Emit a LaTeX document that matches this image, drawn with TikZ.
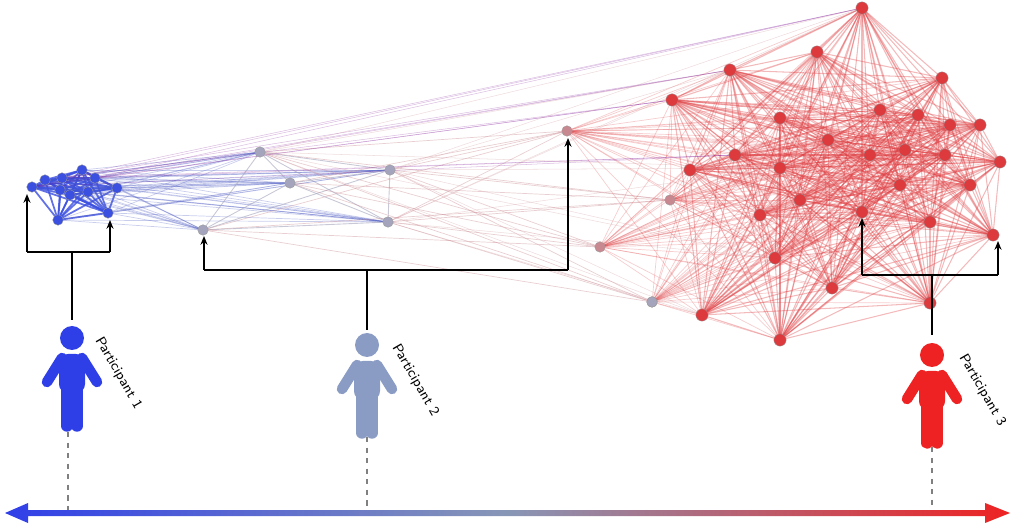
\documentclass[tikz,border=0pt]{standalone}
\usetikzlibrary{arrows.meta}
\definecolor{pblue}{HTML}{2F3FE8}
\definecolor{pgray}{HTML}{8A9CC4}
\definecolor{pred}{HTML}{EE2222}
\definecolor{nblue}{HTML}{3B4FE0}
\definecolor{ngray}{HTML}{A4A4BC}
\definecolor{npink}{HTML}{C88890}
\definecolor{nred}{HTML}{DD3A3E}
\tikzset{
  nd/.style={circle,inner sep=0pt,minimum size=6pt,draw=black!40,line width=0.2pt},
  bracket/.style={line width=1.2pt,-{Stealth[length=5pt,width=4pt]}},
  stem/.style={line width=1.2pt},
  guide/.style={dashed,gray,line width=1pt},
  plabel/.style={rotate=-60,anchor=west,font=\sffamily\footnotesize,inner sep=0pt},
}
\newcommand{\person}[3]{% x, y(head), colour
  \fill[#3] (#1,#2) circle (12);
  \fill[#3,rounded corners=5] (#1-13,#2+16) rectangle (#1+13,#2+55);
  \draw[#3,line width=6pt,line cap=round] (#1-10,#2+20) -- (#1-25,#2+44);
  \draw[#3,line width=6pt,line cap=round] (#1+10,#2+20) -- (#1+25,#2+44);
  \draw[#3,line width=6.5pt,line cap=round] (#1-5,#2+52) -- (#1-5,#2+88);
  \draw[#3,line width=6.5pt,line cap=round] (#1+5,#2+52) -- (#1+5,#2+88);
}
\begin{document}
\begin{tikzpicture}[x=0.02cm,y=-0.02cm]
\useasboundingbox (0,0) rectangle (1024,526);

% nodes of the three groups
\foreach \n/\x/\y in {1/32/187,2/45/180,3/62/178,4/82/170,5/95/178,6/117/188,7/108/213,8/58/220,9/70/195,10/88/192,11/60/190}
  \coordinate (b\n) at (\x,\y);
\foreach \n/\x/\y in {1/260/152,2/290/183,3/390/170,4/388/222,5/203/230}
  \coordinate (g\n) at (\x,\y);
\foreach \n/\x/\y in {1/567/131,2/600/247,3/652/302,4/670/200}
  \coordinate (p\n) at (\x,\y);
\foreach \n/\x/\y in {1/862/8,2/817/52,3/730/70,4/672/100,5/942/78,6/780/118,7/735/155,8/780/168,9/828/140,10/870/155,
  11/905/150,12/918/115,13/950/125,14/980/125,15/1000/162,16/970/185,17/945/155,18/862/212,19/930/222,20/993/235,
  21/775/258,22/832/288,23/930/303,24/702/315,25/780/340,26/900/185,27/800/200,28/760/215,29/880/110,30/690/170}
  \coordinate (r\n) at (\x,\y);

% edges
\foreach \i in {1,...,30}{\foreach \j in {\i,...,30}{\ifnum\i<\j
  \draw[nred,opacity=0.35,line width=0.6pt] (r\i) -- (r\j);\fi}}
\foreach \i in {1,...,11}{\foreach \j in {\i,...,11}{\ifnum\i<\j
  \draw[nblue,opacity=0.8,line width=1pt] (b\i) -- (b\j);\fi}}
\foreach \i in {1,...,11}{\foreach \j in {1,...,5}
  \draw[nblue!70!gray,opacity=0.3,line width=0.4pt] (b\i) -- (g\j);}
\foreach \i in {1,...,5}{\foreach \j in {\i,...,5}{\ifnum\i<\j
  \draw[ngray,opacity=0.6,line width=0.5pt] (g\i) -- (g\j);\fi}}
\foreach \i in {1,...,5}{\foreach \j in {1,...,4}
  \draw[npink,opacity=0.4,line width=0.4pt] (g\i) -- (p\j);}
\foreach \i in {1,...,4}{\foreach \j in {1,...,30}
  \draw[nred,opacity=0.25,line width=0.4pt] (p\i) -- (r\j);}
\foreach \i in {1,3,5}{\foreach \j in {1,3,4,7}
  \draw[purple!60!blue,opacity=0.25,line width=0.3pt] (b\i) -- (r\j);}
\foreach \i in {1,3,4}{\foreach \j in {1,3,8,21,24}
  \draw[npink,opacity=0.3,line width=0.3pt] (g\i) -- (r\j);}

\foreach \n in {1,...,11} \node[nd,fill=nblue] at (b\n) {};
\foreach \n in {1,...,5} \node[nd,fill=ngray] at (g\n) {};
\foreach \n in {1,...,4} \node[nd,fill=npink] at (p\n) {};
\foreach \n in {1,...,30} \node[nd,fill=nred,minimum size=7pt] at (r\n) {};
\node[nd,fill=ngray] at (p3) {};

% brackets
\coordinate (k1) at (27,252); \coordinate (k2) at (110,252); \coordinate (k3) at (72,320);
\draw[bracket] (k1) -- (27,194);
\draw[bracket] (k2) -- (110,220);
\draw[stem] (k1) -- (k2); \draw[stem] (72,252) -- (k3);
\coordinate (m1) at (204,270); \coordinate (m2) at (568,270); \coordinate (m3) at (367,330);
\draw[bracket] (m1) -- (204,236);
\draw[bracket] (m2) -- (568,138);
\draw[stem] (m1) -- (m2); \draw[stem] (367,270) -- (m3);
\coordinate (n1) at (862,275); \coordinate (n2) at (998,275); \coordinate (n3) at (932,335);
\draw[bracket] (n1) -- (862,218);
\draw[bracket] (n2) -- (998,241);
\draw[stem] (n1) -- (n2); \draw[stem] (932,275) -- (n3);

% participants
\person{72}{338}{pblue}
\person{367}{345}{pgray}
\person{932}{355}{pred}
\node[plabel] (l1) at (98,338) {Participant 1};
\node[plabel] (l2) at (395,345) {Participant 2};
\node[plabel] (l3) at (962,355) {Participant 3};
\draw[guide] (68,432) -- (68,510);
\draw[guide] (367,437) -- (367,512);
\draw[guide] (932,447) -- (932,510);

% axis
\shade[left color=pblue,right color=pred,middle color=pgray!80!gray]
  (5,513) -- (28,503) -- (28,510) -- (985,510) -- (985,503) -- (1010,513)
  -- (985,523) -- (985,516) -- (28,516) -- (28,523) -- cycle;
\end{tikzpicture}
\end{document}
